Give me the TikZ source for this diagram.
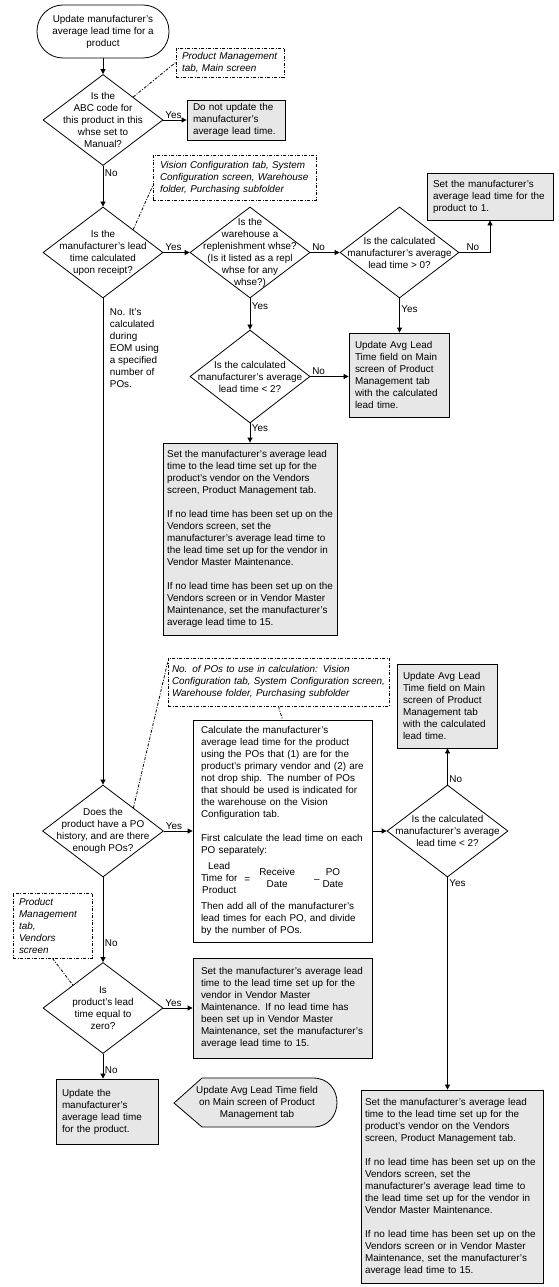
\documentclass[tikz,border=0pt]{standalone}
\usepackage{fontspec}
\setmainfont{Liberation Sans}
\usetikzlibrary{shapes.geometric,arrows.meta}
\definecolor{boxgray}{RGB}{231,231,231}

\begin{document}
\begin{tikzpicture}[
	x=1pt, y=-1pt,
	line width=0.8pt,
	every node/.style={font=\fontsize{9.9}{12}\selectfont},
	decision/.style={diamond, draw, inner sep=0pt, minimum width=120pt, minimum height=91pt},
	qtext/.style={align=center, inner sep=0pt},
	terminal/.style={draw, rounded corners=26pt, minimum width=132pt, minimum height=53pt, align=center},
	actbox/.style={draw, fill=boxgray, align=left, inner xsep=6pt, inner ysep=0pt},
	calcbox/.style={draw, fill=white, align=left, inner xsep=8pt, inner ysep=0pt},
	dashdot/.style={dash pattern=on 3pt off 1.5pt on 1pt off 1.5pt},
	notebox/.style={draw, dashdot, align=left, inner xsep=6pt, inner ysep=0pt, font=\fontsize{9.9}{12}\selectfont\itshape},
	arr/.style={-{Triangle[length=5pt,width=5pt]}},
	lbl/.style={inner sep=1.5pt},
	]
	\useasboundingbox (0,0) rectangle (559,1287);

	%start
	\node[terminal] (start) at (103,31.5) {Update manufacturer's\\average lead time for a\\product};

	%decisions
	\node[decision] (abc) at (103,120) {};
	\node[qtext] (abc-q) at (abc) {Is the\\ABC code for\\this product in this\\whse set to\\Manual?};
	\node[decision] (receipt) at (103,252.5) {};
	\node[qtext] (receipt-q) at (receipt) {Is the\\manufacturer's lead\\time calculated\\upon receipt?};
	\node[decision] (repl) at (250,252.5) {};
	\node[qtext] (repl-q) at (repl) {Is the\\warehouse a\\replenishment whse?\\(Is it listed as a repl\\whse for any\\whse?)};
	\node[decision, minimum width=119pt] (gtzero) at (399.5,252.5) {};
	\node[qtext] (gtzero-q) at (gtzero) {Is the calculated\\manufacturer's average\\lead time > 0?};
	\node[decision, minimum height=93pt] (lttwo) at (250,376.5) {};
	\node[qtext] (lttwo-q) at (lttwo) {Is the calculated\\manufacturer's average\\lead time < 2?};
	\node[decision, minimum width=121pt, minimum height=92pt] (pohist) at (103,831) {};
	\node[qtext] (pohist-q) at (pohist) {Does the\\product have a PO\\history, and are there\\enough POs?};
	\node[decision, minimum width=121pt, minimum height=92pt] (lttwob) at (447.5,831) {};
	\node[qtext] (lttwob-q) at (lttwob) {Is the calculated\\manufacturer's average\\lead time < 2?};
	\node[decision] (zero) at (103,1008) {};
	\node[qtext] (zero-q) at (zero) {Is\\product's lead\\time equal to\\zero?};

	%actions
	\node[actbox, text width=86pt, minimum height=40pt] (noupd) at (236,120) {Do not update the\\manufacturer's\\average lead time.};
	\node[actbox, text width=114pt, minimum height=47pt] (setone) at (490,196.5) {Set the manufacturer's\\average lead time for the\\product to 1.};
	\node[actbox, text width=88pt, minimum height=84pt] (upd1) at (399,375) {Update Avg Lead\\Time field on Main\\screen of Product\\Management tab\\with the calculated\\lead time.};
	\node[actbox, inner xsep=1pt, minimum width=174pt, minimum height=192pt] (vend1) at (250,539) {Set the manufacturer's average lead\\time to the lead time set up for the\\product's vendor on the Vendors\\screen, Product Management tab.\\[12pt]If no lead time has been set up on the\\Vendors screen, set the\\manufacturer's average lead time to\\the lead time set up for the vendor in\\Vendor Master Maintenance.\\[12pt]If no lead time has been set up on the\\Vendors screen or in Vendor Master\\Maintenance, set the manufacturer's\\average lead time to 15.};
	\node[calcbox, text width=163pt, minimum height=222pt] (calc) at (282.5,831) {Calculate the manufacturer's\\average lead time for the product\\using the POs that (1) are for the\\product's primary vendor and (2) are\\not drop ship. The number of POs\\that should be used is indicated for\\the warehouse on the Vision\\Configuration tab.\\[12pt]First calculate the lead time on each\\PO separately:\\[5pt]\begin{tabular}{@{}c@{}}Lead\\Time for\\Product\end{tabular}\hspace{7pt}=\hspace{9pt}\begin{tabular}{@{}c@{}}Receive\\Date\end{tabular}\hspace{19pt}--\hspace{3pt}\begin{tabular}{@{}c@{}}PO\\Date\end{tabular}\\[4pt]Then add all of the manufacturer's\\lead times for each PO, and divide\\by the number of POs.};
	\node[actbox, text width=88pt, minimum height=84pt] (upd2) at (447,706) {Update Avg Lead\\Time field on Main\\screen of Product\\Management tab\\with the calculated\\lead time.};
	\node[actbox, inner xsep=4pt, text width=174pt, minimum height=193pt] (vend2) at (452,1186.5) {Set the manufacturer's average lead\\time to the lead time set up for the\\product's vendor on the Vendors\\screen, Product Management tab.\\[12pt]If no lead time has been set up on the\\Vendors screen, set the\\manufacturer's average lead time to\\the lead time set up for the vendor in\\Vendor Master Maintenance.\\[12pt]If no lead time has been set up on the\\Vendors screen or in Vendor Master\\Maintenance, set the manufacturer's\\average lead time to 15.};
	\node[actbox, inner xsep=8pt, text width=163pt, minimum height=100pt] (vmm) at (282.5,1008) {Set the manufacturer's average lead\\time to the lead time set up for the\\vendor in Vendor Master\\Maintenance. If no lead time has\\been set up in Vendor Master\\Maintenance, set the manufacturer's\\average lead time to 15.};
	\node[actbox, text width=90pt, minimum height=65pt] (updprod) at (107,1111.5) {Update the\\manufacturer's\\average lead time\\for the product.};

	%display
	\draw[fill=boxgray] (174,1103) -- (202,1078) -- (313,1078) .. controls (345,1078) and (345,1127) .. (313,1127) -- (202,1127) -- cycle;
	\node[align=center] (display) at (257,1103) {Update Avg Lead Time field\\on Main screen of Product\\Management tab};

	%notes
	\node[notebox, text width=96pt, minimum height=29pt] (note1) at (230,62.5) {Product Management\\tab, Main screen};
	\node[notebox, inner xsep=7pt, text width=149pt, minimum height=45pt] (note2) at (234.5,177.5) {Vision Configuration tab, System\\Configuration screen, Warehouse\\folder, Purchasing subfolder};
	\node[notebox, inner xsep=4pt, text width=213pt, minimum height=48pt] (note3) at (278.5,682) {No. of POs to use in calculation: Vision\\Configuration tab, System Configuration screen,\\Warehouse folder, Purchasing subfolder};
	\node[notebox, text width=67pt, minimum height=65pt] (note4) at (52.5,925.5) {Product\\Management\\tab,\\Vendors\\screen};
	\draw[dashdot] (abc.north east) -- (note1.west);
	\draw[dashdot] (receipt.north east) -- (note2.186);
	\draw[dashdot] (pohist.north east) -- (note3.170);
	\draw[dashdot] (note3.south) -- (calc.north);
	\draw[dashdot] (note4.south) -- (zero.north west);

	%arrows
	\draw[arr] (start) -- (abc);
	\draw[arr] (abc) -- node[lbl, pos=0, above right] {Yes} (noupd);
	\draw[arr] (abc) -- node[lbl, pos=0.19, right] {No} (receipt);
	\draw[arr] (receipt) -- node[lbl, pos=0, above right] {Yes} (repl);
	\draw[arr] (repl) -- node[lbl, pos=0, above right] {No} (gtzero);
	\draw[arr] (gtzero) -| node[lbl, pos=0.22, above] {No} (setone);
	\draw[arr] (gtzero.south) -- node[lbl, pos=0.3, right] {Yes} (gtzero.south |- upd1.north);
	\draw[arr] (repl) -- node[lbl, pos=0.25, right] {Yes} (lttwo);
	\draw[arr] (lttwo.east) -- node[lbl, pos=0, above right] {No} (lttwo.east -| upd1.west);
	\draw[arr] (lttwo) -- node[lbl, pos=0.25, right] {Yes} (vend1);
	\draw[arr] (receipt) -- node[lbl, pos=0, anchor=north west, align=left, xshift=5pt, yshift=-8pt] {No. It's\\calculated\\during\\EOM using\\a specified\\number of\\POs.} (pohist);
	\draw[arr] (pohist) -- node[lbl, pos=0, above right] {Yes} (calc);
	\draw[arr] (calc) -- (lttwob);
	\draw[arr] (lttwob.north) -- node[lbl, pos=0, above right] {No} (lttwob.north |- upd2.south);
	\draw[arr] (lttwob.south) -- node[lbl, pos=0, below right] {Yes} (lttwob.south |- vend2.north);
	\draw[arr] (pohist) -- node[lbl, pos=0.78, right] {No} (zero);
	\draw[arr] (zero) -- node[lbl, pos=0, above right] {Yes} (vmm);
	\draw[arr] (zero.south) -- node[lbl, pos=0.65, right] {No} (zero.south |- updprod.north);
\end{tikzpicture}
\end{document}
